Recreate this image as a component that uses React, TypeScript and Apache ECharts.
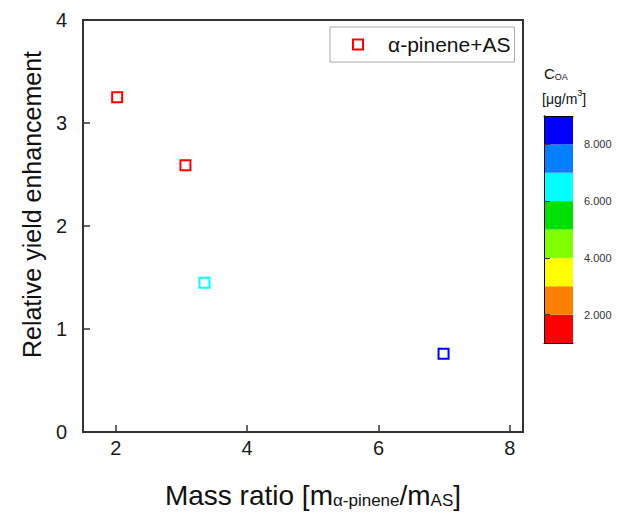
import React, { useEffect, useRef } from "react";
import * as echarts from "echarts";

const seriesName = "α-pinene+AS";
const massRatio = [2.02, 3.06, 3.35, 6.99];
const yieldEnhancement = [3.25, 2.59, 1.45, 0.76];
const coaValues = [1.5, 1.5, 6.5, 8.5];
const xTickValues = [2, 4, 6, 8];
const colorBinEdges = [1, 2, 3, 4, 5, 6, 7, 8, 9];
const colorBinColors = ["#FF0000", "#FF8000", "#FFFF00", "#80FF00", "#00E000", "#00FFFF", "#0080FF", "#0000FF"];
const colorbarTickValues = [2, 4, 6, 8];

const FONT = "Arial, 'Liberation Sans', sans-serif";

function colorFor(v: number): string {
  for (let i = 0; i < colorBinColors.length; i++) {
    if (v >= colorBinEdges[i] && v < colorBinEdges[i + 1]) return colorBinColors[i];
  }
  return colorBinColors[colorBinColors.length - 1];
}

export default function App() {
  const ref = useRef<HTMLDivElement>(null);
  useEffect(() => {
    document.body.style.margin = "0";
    if (!ref.current) return;
    const chart = echarts.init(ref.current, null, { renderer: "svg" });
    const scatterData = massRatio.map((x, i) => ({
      value: [x, yieldEnhancement[i], coaValues[i]],
      itemStyle: { borderColor: colorFor(coaValues[i]) },
    }));
    const binData = colorBinColors.map((_, i) => [colorBinEdges[i], colorBinEdges[i + 1], i]);
    chart.setOption({
      animation: false,
      backgroundColor: "#fff",
      textStyle: { fontFamily: FONT },
      grid: [
        { left: 83, top: 20, width: 440, height: 416, show: true, borderColor: "#333", borderWidth: 2, z: 10, backgroundColor: "transparent" },
        { left: 544, top: 116, width: 29, height: 227 },
      ],
      legend: {
        left: 330,
        top: 27,
        padding: [7, 4, 7, 22],
        borderColor: "#aaa",
        borderWidth: 1,
        itemWidth: 10,
        itemHeight: 10,
        data: [{ name: seriesName, icon: "rect", itemStyle: { color: "#fff", borderColor: "#FF0000", borderWidth: 2 } }],
        textStyle: { fontSize: 21, color: "#111", fontFamily: FONT, padding: [0, 0, 0, 20], lineHeight: 20 },
      },
      xAxis: [
        {
          type: "value",
          gridIndex: 0,
          min: 1.5,
          max: 8.2,
          name: "{m|Mass ratio [m}{s|α-pinene}{m|/m}{s|AS}{m|]}",
          nameLocation: "middle",
          nameGap: 45,
          nameTextStyle: {
            padding: [0, 0, 0, 20],
            rich: {
              m: { fontSize: 28, lineHeight: 32, color: "#111", fontFamily: FONT, verticalAlign: "bottom" },
              s: { fontSize: 17, lineHeight: 15, color: "#111", fontFamily: FONT, verticalAlign: "bottom" },
            },
          },
          axisLine: { show: true, onZero: false, lineStyle: { color: "#333", width: 2 } },
          axisTick: { show: true, inside: true, length: 7, customValues: xTickValues, lineStyle: { color: "#333", width: 1.5 } },
          axisLabel: { customValues: xTickValues, fontSize: 20, color: "#1a1a1a", margin: 6, fontFamily: FONT },
          splitLine: { show: false },
        },
        { type: "value", gridIndex: 1, min: 0, max: 1, position: "bottom", z: 10, axisLine: { show: true, lineStyle: { color: "#000", width: 1 } }, axisTick: { show: false }, axisLabel: { show: false }, splitLine: { show: false } },
        { type: "value", gridIndex: 1, min: 0, max: 1, position: "top", z: 10, axisLine: { show: true, lineStyle: { color: "#000", width: 1 } }, axisTick: { show: false }, axisLabel: { show: false }, splitLine: { show: false } },
      ],
      yAxis: [
        {
          type: "value",
          gridIndex: 0,
          min: 0,
          max: 4,
          interval: 1,
          name: "Relative yield enhancement",
          nameLocation: "middle",
          nameGap: 28,
          nameTextStyle: { fontSize: 25, color: "#111", fontFamily: FONT, padding: [0, 0, 0, 43] },
          axisLine: { show: true, onZero: false, lineStyle: { color: "#333", width: 2 } },
          axisTick: { show: true, inside: true, length: 7, lineStyle: { color: "#333", width: 1.5 } },
          axisLabel: { fontSize: 20, color: "#1a1a1a", margin: 16, fontFamily: FONT },
          splitLine: { show: false },
        },
        {
          type: "value",
          gridIndex: 1,
          min: 1,
          max: 9,
          position: "right",
          z: 10,
          axisLine: { show: true, lineStyle: { color: "#000", width: 1 } },
          axisTick: { show: true, inside: false, length: 6, customValues: colorbarTickValues, lineStyle: { color: "#333", width: 1 } },
          axisLabel: { customValues: colorbarTickValues, formatter: (v: number) => v.toFixed(3), fontSize: 11, color: "#333", margin: 11, fontFamily: FONT },
          splitLine: { show: false },
        },
        {
          type: "value",
          gridIndex: 1,
          min: 1,
          max: 9,
          position: "left",
          z: 10,
          axisLine: { show: true, lineStyle: { color: "#000", width: 1 } },
          axisTick: { show: false },
          axisLabel: { show: false },
          splitLine: { show: false },
        },
      ],
      graphic: [
        {
          type: "text",
          left: 544,
          top: 66,
          style: {
            text: "{c|C}{s|OA}",
            rich: {
              c: { fontSize: 15, fill: "#111", fontFamily: FONT, lineHeight: 18, verticalAlign: "bottom" },
              s: { fontSize: 9, fill: "#111", fontFamily: FONT, lineHeight: 10, verticalAlign: "bottom" },
            },
          },
        },
        {
          type: "text",
          left: 542,
          top: 88,
          style: {
            text: "{c|[μg/m}{p|3}{c|]}",
            rich: {
              c: { fontSize: 14, fill: "#111", fontFamily: FONT, lineHeight: 18, verticalAlign: "bottom" },
              p: { fontSize: 9, fill: "#111", fontFamily: FONT, lineHeight: 10, verticalAlign: "top" },
            },
          },
        },
      ],
      series: [
        {
          name: seriesName,
          type: "scatter",
          xAxisIndex: 0,
          yAxisIndex: 0,
          symbol: "rect",
          symbolSize: 10,
          itemStyle: { color: "#fff", borderWidth: 2, opacity: 1 },
          data: scatterData,
          z: 20,
        },
        {
          type: "custom",
          xAxisIndex: 1,
          yAxisIndex: 1,
          encode: { y: [0, 1] },
          data: binData,
          silent: true,
          renderItem: (_params: any, api: any) => {
            const p0 = api.coord([0, api.value(0)]);
            const p1 = api.coord([1, api.value(1)]);
            return {
              type: "rect",
              shape: { x: p0[0], y: p1[1], width: p1[0] - p0[0], height: p0[1] - p1[1] },
              style: { fill: colorBinColors[api.value(2)] },
            };
          },
        },
      ],
    });
    return () => chart.dispose();
  }, []);
  return <div ref={ref} style={{ width: 619, height: 514 }} />;
}
